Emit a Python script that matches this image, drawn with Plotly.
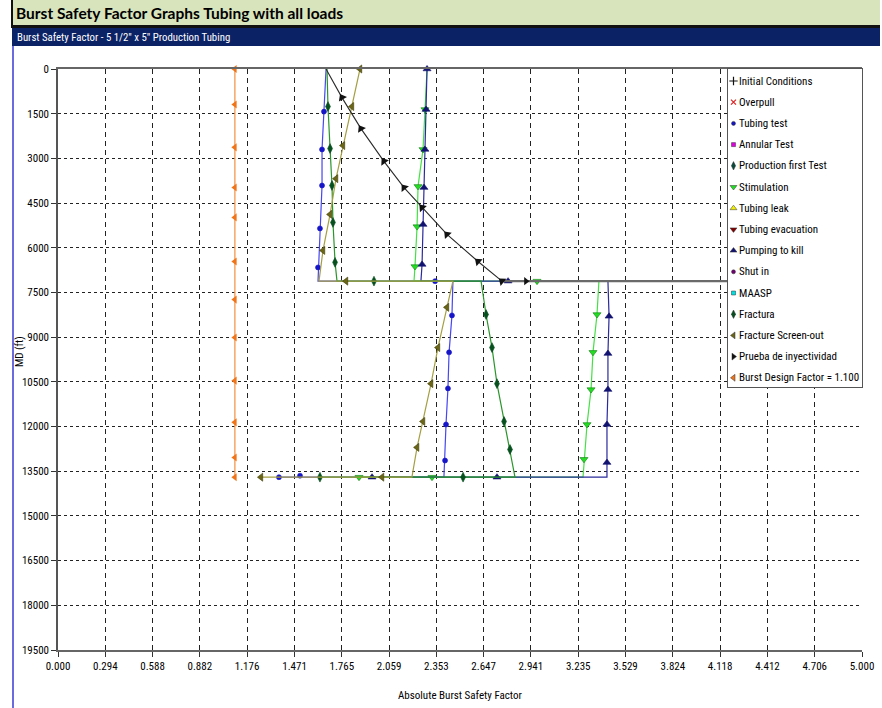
import plotly.graph_objects as go

# ---------------- data ----------------
x_tick_labels = ["0.000", "0.294", "0.588", "0.882", "1.176", "1.471", "1.765", "2.059", "2.353",
                 "2.647", "2.941", "3.235", "3.529", "3.824", "4.118", "4.412", "4.706", "5.000"]
md_tick_labels = ["0", "1500", "3000", "4500", "6000", "7500", "9000", "10500", "12000", "13500",
                  "15000", "16500", "18000", "19500"]

legend_names = ["Initial Conditions", "Overpull", "Tubing test", "Annular Test", "Production first Test",
                "Stimulation", "Tubing leak", "Tubing evacuation", "Pumping to kill", "Shut in", "MAASP",
                "Fractura", "Fracture Screen-out", "Prueba de inyectividad", "Burst Design Factor = 1.100"]

# Tubing test
tt_x = [1.667, 1.654, 1.642, 1.642, 1.629, 1.617, 1.617, 2.456, 2.450, 2.432, 2.425, 2.413, 2.407, 2.400, 1.374]
tt_md = [0, 1430, 2700, 3910, 5350, 6660, 7120, 7120, 8270, 9510, 10720, 11930, 13140, 13700, 13700]
tt_mk_x = [1.654, 1.642, 1.642, 1.629, 1.617, 2.345, 2.450, 2.432, 2.425, 2.413, 2.407, 1.505, 1.374]
tt_mk_md = [1430, 2700, 3910, 5350, 6660, 7120, 8270, 9510, 10720, 11930, 13140, 13650, 13700]

# Stimulation
st_x = [2.295, 2.282, 2.270, 2.239, 2.233, 2.220, 2.214, 3.364, 3.352, 3.327, 3.315, 3.290, 3.271, 3.265, 1.872]
st_md = [0, 1360, 2700, 3940, 5290, 6630, 7120, 7120, 8240, 9510, 10760, 11930, 13100, 13700, 13700]
st_mk_x = [2.282, 2.270, 2.239, 2.233, 2.220, 2.979, 3.352, 3.327, 3.315, 3.290, 3.271, 2.326, 1.872]
st_mk_md = [1360, 2700, 3940, 5290, 6630, 7120, 8240, 9510, 10760, 11930, 13100, 13700, 13700]

# Pumping to kill
pk_x = [2.295, 2.289, 2.282, 2.276, 2.270, 2.264, 2.257, 3.420, 3.427, 3.420, 3.420, 3.414, 3.414, 3.414, 1.953]
pk_md = [0, 1360, 2700, 3980, 5220, 6560, 7120, 7120, 8300, 9550, 10760, 11930, 13210, 13700, 13700]
pk_mk_x = [2.295, 2.289, 2.282, 2.276, 2.270, 2.264, 2.799, 3.427, 3.420, 3.420, 3.414, 3.414, 2.730, 1.953]
pk_mk_md = [0, 1360, 2700, 3980, 5220, 6560, 7120, 8300, 9550, 10760, 11930, 13210, 13700, 13700]

# Fractura
fr_x = [1.673, 1.679, 1.692, 1.704, 1.710, 1.723, 1.735, 2.631, 2.662, 2.699, 2.730, 2.774, 2.811, 2.842, 1.629]
fr_md = [0, 1260, 2670, 3910, 5150, 6490, 7120, 7120, 8240, 9350, 10560, 11830, 12770, 13700, 13700]
fr_mk_x = [1.679, 1.692, 1.704, 1.710, 1.723, 1.965, 2.662, 2.699, 2.730, 2.774, 2.811, 2.519, 1.629]
fr_mk_md = [1260, 2670, 3910, 5150, 6490, 7120, 8240, 9350, 10560, 11830, 12770, 13700, 13700]

# Fracture Screen-out
so_x = [1.878, 1.828, 1.772, 1.729, 1.692, 1.648, 1.623, 2.456, 2.419, 2.363, 2.320, 2.270, 2.233, 2.201, 1.262]
so_md = [0, 1260, 2570, 3680, 4880, 6090, 7120, 7120, 8000, 9350, 10560, 11830, 12700, 13700, 13700]
so_mk_x = [1.878, 1.828, 1.772, 1.729, 1.692, 1.648, 1.791, 2.419, 2.363, 2.320, 2.270, 2.233, 2.015, 1.262]
so_mk_md = [0, 1260, 2570, 3680, 4880, 6090, 7120, 8000, 9350, 10560, 11830, 12700, 13700, 13700]

# Prueba de inyectividad
pi_x = [1.667, 1.766, 1.884, 2.027, 2.152, 2.264, 2.419, 2.612, 2.761]
pi_md = [0, 960, 2000, 3100, 3980, 4650, 5550, 6460, 7120]
pi_tail_x = [2.761, 2.910, 5.000]
pi_tail_md = [7120, 7120, 7120]

# Burst Design Factor = 1.100
bdf_x = [1.1, 1.1, 1.1, 1.1, 1.1, 1.1, 1.1, 1.1, 1.1, 1.1, 1.1, 1.1]
bdf_md = [0, 1190, 2630, 3980, 4980, 6460, 7740, 9010, 10460, 11860, 13040, 13700]

# ---------------- styling ----------------
NARROW = "Liberation Sans Narrow, Arial Narrow, Roboto Condensed, DejaVu Sans Condensed, sans-serif"
W, H = 882, 708
L, R, T, B = 58, 20, 69, 58
PW, PH = W - L - R, H - T - B


def pxx(xp):
    return (xp - L) / PW


def pxy(yp):
    return (H - B - yp) / PH


fig = go.Figure()


def add_series(x, md, mx, mmd, line_color, mk_color, symbol, size=6, mk_line=None):
    fig.add_trace(go.Scatter(x=x, y=md, mode="lines", line=dict(color=line_color, width=1.2),
                             showlegend=False, hoverinfo="skip"))
    fig.add_trace(go.Scatter(x=mx, y=mmd, mode="markers", cliponaxis=False,
                             marker=dict(symbol=symbol, size=size, color=mk_color,
                                         line=dict(width=0.6, color=mk_line or mk_color)),
                             showlegend=False, hoverinfo="skip"))


add_series(tt_x, tt_md, tt_mk_x, tt_mk_md, "#4646f2", "#1616c8", "circle", 5)
add_series(st_x, st_md, st_mk_x, st_mk_md, "#45e045", "#22dd22", "triangle-down", 7, "#137a13")
add_series(pk_x, pk_md, pk_mk_x, pk_mk_md, "#2b2b9c", "#121270", "triangle-up", 7)
add_series(fr_x, fr_md, fr_mk_x, fr_mk_md, "#2a962a", "#06501e", "diamond-tall", 7)
add_series(so_x, so_md, so_mk_x, so_mk_md, "#a59f42", "#6a6616", "triangle-left", 7, "#3f3d08")

# Prueba de inyectividad
fig.add_trace(go.Scatter(x=pi_tail_x, y=pi_tail_md, mode="lines", line=dict(color="#6a6a6a", width=2.2),
                         showlegend=False, hoverinfo="skip"))
fig.add_trace(go.Scatter(x=pi_tail_x[1:2], y=pi_tail_md[1:2], mode="markers", cliponaxis=False,
                         marker=dict(symbol="triangle-right", size=7, color="#111"),
                         showlegend=False, hoverinfo="skip"))
fig.add_trace(go.Scatter(x=pi_x, y=pi_md, mode="lines+markers", cliponaxis=False,
                         line=dict(color="#2a2a2a", width=1.1),
                         marker=dict(symbol="triangle-down", size=8, color="#111", angleref="previous"),
                         showlegend=False, hoverinfo="skip"))

# Burst design factor
fig.add_trace(go.Scatter(x=bdf_x, y=bdf_md, mode="lines+markers", cliponaxis=False,
                         line=dict(color="#f5984a", width=1.3),
                         marker=dict(symbol="triangle-left", size=7, color="#f07418"),
                         showlegend=False, hoverinfo="skip"))

# ---------------- legend box (drawn on its own small subplot) ----------------
LEG_L, LEG_R, LEG_T, LEG_B = 728, 862, 69, 387
leg_w, leg_h = LEG_R - LEG_L, LEG_B - LEG_T
row_h = 21.2
legend_styles = [
    ("cross-thin", "#111", 6),
    ("x-thin", "#e02020", 5),
    ("circle", "#1616c8", 4),
    ("square", "#e000e0", 4),
    ("diamond-tall", "#0a4a3a", 6),
    ("triangle-down", "#22dd22", 6),
    ("triangle-up", "#f0f000", 6),
    ("triangle-down", "#800000", 6),
    ("triangle-up", "#121270", 6),
    ("circle", "#700070", 4),
    ("square", "#00e0e0", 4),
    ("diamond-tall", "#06501e", 6),
    ("triangle-left", "#6a6616", 6),
    ("triangle-right", "#111", 6),
    ("triangle-left", "#f07418", 6),
]
row_y = [12 + row_h * i for i in range(len(legend_names))]
annotations = []
for name, (sym, col, sz), ry in zip(legend_names, legend_styles, row_y):
    outline = col if "thin" in sym else "#333"
    lw = 1.2 if "thin" in sym else 0.5
    fig.add_trace(go.Scatter(x=[5.5], y=[ry], xaxis="x2", yaxis="y2", mode="markers", name=name,
                             showlegend=False, hoverinfo="skip", cliponaxis=False,
                             marker=dict(symbol=sym, size=sz, color=col, line=dict(width=lw, color=outline))))
    annotations.append(dict(text=name, xref="x2", yref="y2", x=9, y=ry, xanchor="left", yanchor="middle",
                            showarrow=False, font=dict(family=NARROW, size=11, color="#000")))

# header shapes
shapes = [
    dict(type="rect", xref="paper", yref="paper", x0=pxx(12), x1=pxx(880), y0=pxy(25), y1=pxy(0),
         fillcolor="#d8e4bc", line=dict(width=0), layer="above"),
    dict(type="rect", xref="paper", yref="paper", x0=pxx(12), x1=pxx(880), y0=pxy(28), y1=pxy(25),
         fillcolor="#111", line=dict(width=0), layer="above"),
    dict(type="rect", xref="paper", yref="paper", x0=pxx(12), x1=pxx(880), y0=pxy(46), y1=pxy(28),
         fillcolor="#0b2265", line=dict(width=0), layer="above"),
    dict(type="line", xref="paper", yref="paper", x0=pxx(12), x1=pxx(12), y0=pxy(0), y1=pxy(28),
         line=dict(color="#111", width=2)),
    dict(type="line", xref="paper", yref="paper", x0=pxx(13), x1=pxx(13), y0=pxy(46), y1=pxy(708),
         line=dict(color="#6b6be0", width=2)),
]

annotations += [
    dict(text="<b>Burst Safety Factor Graphs Tubing with all loads</b>", xref="paper", yref="paper",
         x=pxx(14), y=pxy(12.5), xanchor="left", yanchor="middle", showarrow=False,
         font=dict(family="Lato, Carlito, Liberation Sans, sans-serif", size=15.5, color="#000")),
    dict(text='Burst Safety Factor - 5 1/2" x 5" Production Tubing', xref="paper", yref="paper",
         x=pxx(15), y=pxy(37.5), xanchor="left", yanchor="middle", showarrow=False,
         font=dict(family=NARROW, size=10.8, color="#ffffff")),
    dict(text="MD (ft)", xref="paper", yref="paper", x=pxx(19), y=pxy(352), textangle=-90,
         xanchor="center", yanchor="middle", showarrow=False, font=dict(family=NARROW, size=11, color="#000")),
    dict(text="Absolute Burst Safety Factor", xref="paper", yref="paper", x=pxx(460), y=pxy(695),
         xanchor="center", yanchor="middle", showarrow=False, font=dict(family=NARROW, size=11, color="#000")),
]

fig.update_layout(
    width=W, height=H,
    margin=dict(l=L, r=R, t=T, b=B),
    paper_bgcolor="white", plot_bgcolor="white",
    font=dict(family=NARROW, size=11, color="#000"),
    shapes=shapes, annotations=annotations, showlegend=False,
    xaxis=dict(range=[0, 5], tickvals=[float(t) for t in x_tick_labels], ticktext=x_tick_labels,
               showgrid=True, gridcolor="#222", griddash="5px,4px", gridwidth=1, zeroline=False,
               showline=True, linecolor="#666", linewidth=2, mirror=True, automargin=False,
               ticks="outside", ticklen=5, tickcolor="#333", domain=[0, 1]),
    yaxis=dict(range=[19500, 0], tickvals=[float(t) for t in md_tick_labels], ticktext=md_tick_labels,
               showgrid=True, gridcolor="#222", automargin=False,
               griddash="3px,3px", gridwidth=1, zeroline=False,
               showline=True, linecolor="#555", linewidth=1.5,
               ticks="outside", ticklen=5, tickcolor="#333", domain=[0, 1]),
    xaxis2=dict(domain=[pxx(LEG_L), pxx(LEG_R)], range=[0, leg_w], anchor="y2",
                showgrid=False, zeroline=False, showticklabels=False, ticks="",
                showline=True, mirror=True, linecolor="#555", linewidth=1, fixedrange=True),
    yaxis2=dict(domain=[pxy(LEG_B), pxy(LEG_T)], range=[leg_h, 0], anchor="x2",
                showgrid=False, zeroline=False, showticklabels=False, ticks="",
                showline=True, mirror=True, linecolor="#555", linewidth=1, fixedrange=True),
)

fig.write_html("out.html")
